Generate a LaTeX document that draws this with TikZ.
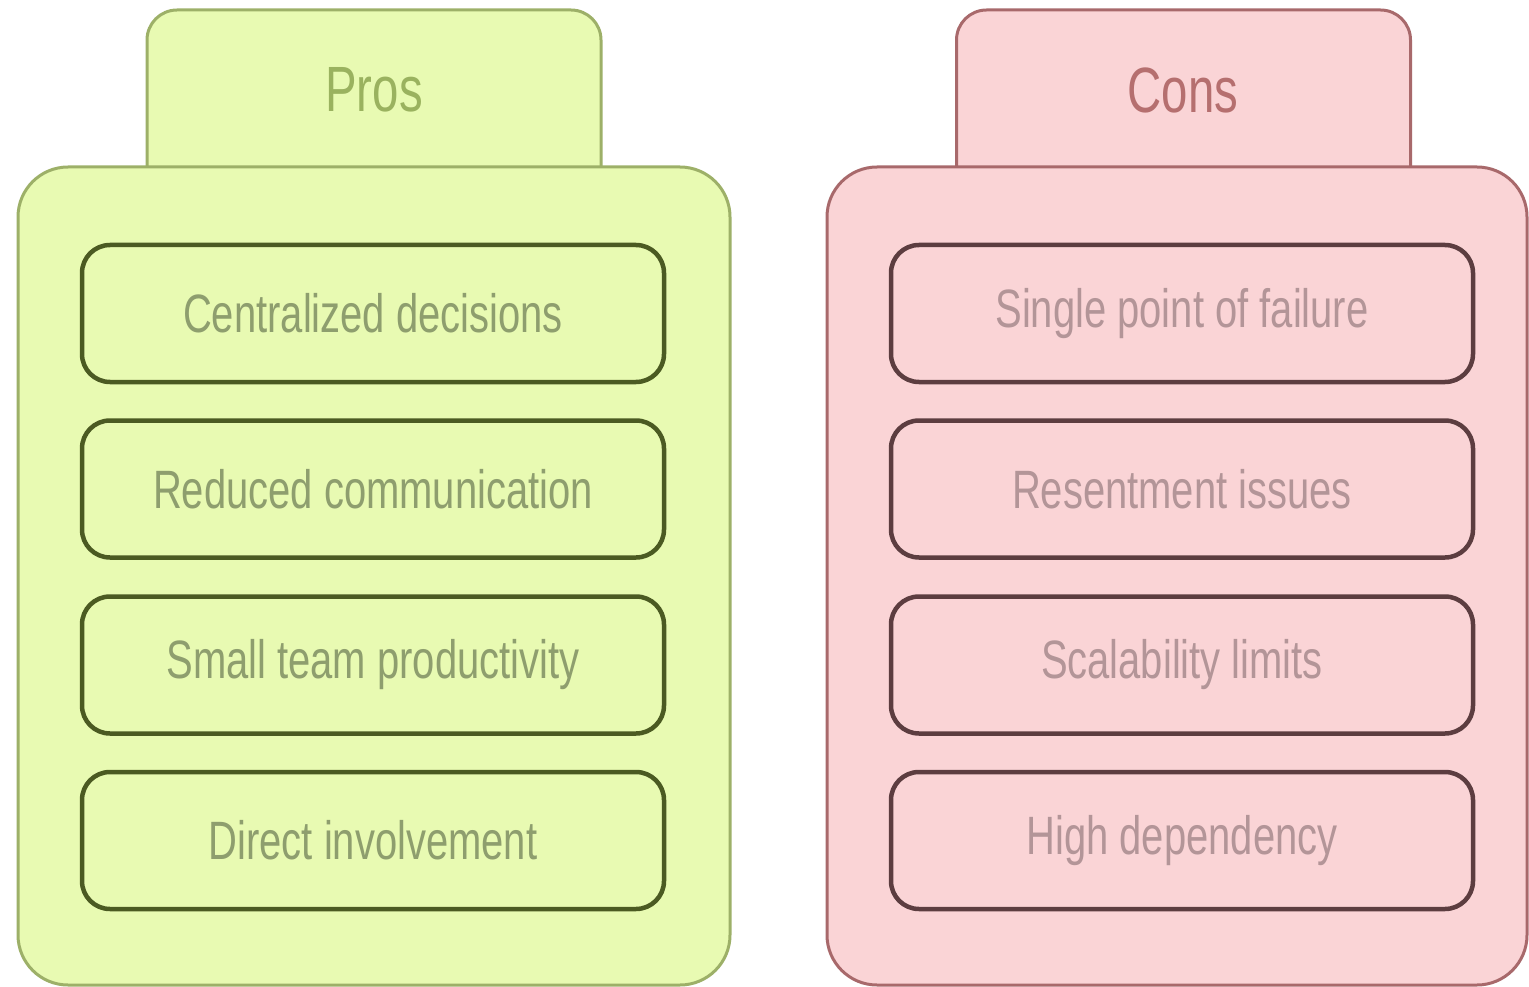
\documentclass[tikz,border=0pt]{standalone}
\usepackage{fontspec}
\setmainfont{Liberation Sans}
\newfontfamily\narrowfont[FakeStretch=0.74]{Liberation Sans}
\definecolor{profill}{HTML}{E8FAB2}
\definecolor{proline}{HTML}{9DB068}
\definecolor{proinner}{HTML}{4B5A22}
\definecolor{protext}{HTML}{8E9E6E}
\definecolor{protitle}{HTML}{9AB25F}
\definecolor{confill}{HTML}{FAD4D6}
\definecolor{conline}{HTML}{A8696B}
\definecolor{coninner}{HTML}{5C3D40}
\definecolor{context}{HTML}{B39598}
\definecolor{contitle}{HTML}{B56F6F}
\tikzset{
  tabbox/.style={draw, line width=3pt, rounded corners=30pt, minimum width=454pt, minimum height=210pt, inner sep=0pt},
  mainbox/.style={draw, line width=3pt, rounded corners=50pt, minimum height=818pt, inner sep=0pt},
  itembox/.style={draw, line width=4.5pt, rounded corners=28pt, minimum width=582pt, minimum height=137pt, inner sep=0pt,
    font=\narrowfont\fontsize{54}{60}\selectfont},
  titletext/.style={font=\narrowfont\fontsize{64}{70}\selectfont, inner sep=0pt},
}
\begin{document}
\begin{tikzpicture}[x=1pt,y=-1pt]
\useasboundingbox (0,0) rectangle (1529,987);
% Pros
\node[tabbox, fill=profill, draw=proline] (protab) at (374,115) {};
\node[mainbox, fill=profill, draw=proline, minimum width=712pt] (promain) at (374,576) {};
\node[titletext, text=protitle] (protitle) at (374,90) {Pros};
\node[itembox, fill=profill, draw=proinner, text=protext] (p1) at (373,313.5) {Centralized decisions};
\node[itembox, fill=profill, draw=proinner, text=protext] (p2) at (373,489) {Reduced communication};
\node[itembox, fill=profill, draw=proinner, text=protext] (p3) at (373,665) {Small team productivity};
\node[itembox, fill=profill, draw=proinner, text=protext] (p4) at (373,840.5) {Direct involvement};
% Cons
\node[tabbox, fill=confill, draw=conline] (contab) at (1183.5,115) {};
\node[mainbox, fill=confill, draw=conline, minimum width=700pt] (conmain) at (1177,576) {};
\node[titletext, text=contitle] (contitle) at (1183,90) {Cons};
\node[itembox, fill=confill, draw=coninner, text=context] (c1) at (1182,313.5) {Single point of failure};
\node[itembox, fill=confill, draw=coninner, text=context] (c2) at (1182,489) {Resentment issues};
\node[itembox, fill=confill, draw=coninner, text=context] (c3) at (1182,665) {Scalability limits};
\node[itembox, fill=confill, draw=coninner, text=context] (c4) at (1182,840.5) {High dependency};
\end{tikzpicture}
\end{document}
